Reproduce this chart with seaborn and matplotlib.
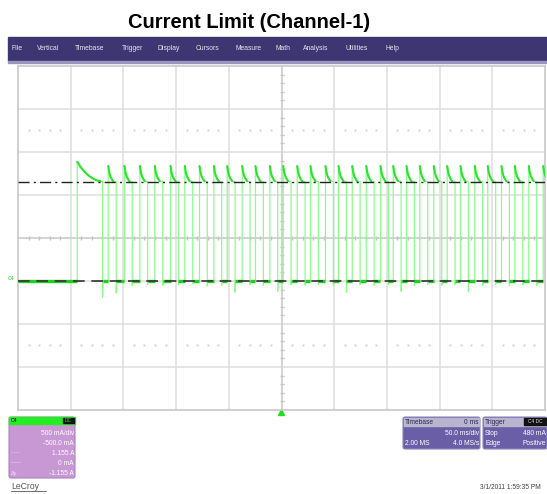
import numpy as np
import pandas as pd
import matplotlib
matplotlib.use('Agg')
import matplotlib.pyplot as plt
import seaborn as sns
from matplotlib.patches import Rectangle, FancyBboxPatch

# scope settings
time_div = 50.0          # ms/div
volt_div = 0.5           # A/div
offset = -0.5            # A
limit_level = 1.155      # A, dash-dot cursor

# pulse edges (ms) and peaks (A)
rise_ms = [-193.8, -164.4, -149.0, -134.4, -120.2, -105.3, -91.7, -77.8, -64.2, -51.5, -37.3,
           -24.7, -11.1, 1.6, 14.9, 27.5, 41.7, 54.1, 67.1, 80.4, 93.9, 106.0, 118.6, 131.2,
           144.5, 157.2, 169.8, 183.4, 195.7, 208.7, 221.4, 234.6, 248.3]
fall_ms = [-169.8, -156.8, -141.6, -127.0, -112.6, -97.8, -84.2, -70.4, -56.8, -44.0, -29.9,
           -17.2, -3.6, 9.1, 22.4, 35.0, 49.2, 61.6, 74.6, 87.9, 101.4, 113.5, 126.1, 138.7,
           152.0, 164.7, 177.3, 190.9, 203.2, 216.2, 228.9, 242.1, 255.8]
dip_A = [-0.19, -0.14, -0.05, -0.04, -0.05, -0.04, -0.03, -0.06, -0.05, -0.13, -0.04,
         -0.05, -0.12, -0.04, -0.05, -0.04, -0.05, -0.13, -0.04, -0.05, -0.04, -0.12, -0.05,
         -0.04, -0.05, -0.04, -0.12, -0.05, -0.04, -0.05, -0.04, -0.05, -0.04]
# decay of the overshoot after each rise: (ms after rise, A)
first_decay_ms = [0.0, 3.1, 7.9, 12.6, 17.4, 22.1]
first_decay_A = [1.387, 1.326, 1.256, 1.209, 1.174, 1.160]
decay_ms = [0.0, 0.9, 1.9, 3.3, 4.7]
decay_A = [1.337, 1.267, 1.221, 1.186, 1.160]

menu_items = ['File', 'Vertical', 'Timebase', 'Trigger', 'Display', 'Cursors', 'Measure',
              'Math', 'Analysis', 'Utilities', 'Help']
menu_x = [12, 37, 75, 122, 158, 196, 235, 275, 303, 346, 385]

# build the trace from the edges
t, a = [], []
t += [-250.0, rise_ms[0]]
a += [0.0, 0.0]
for i, (r, f) in enumerate(zip(rise_ms, fall_ms)):
    dm, dA = (first_decay_ms, first_decay_A) if i == 0 else (decay_ms, decay_A)
    t += [r] + [r + d for d in dm] + [f, f, f + 0.3]
    a += [0.0] + dA + [limit_level, dip_A[i], 0.0]
    if i + 1 < len(rise_ms):
        t += [rise_ms[i + 1]]
        a += [0.0]
trace = pd.DataFrame({'time': t, 'current': a})
trace = trace[trace['time'] <= 250.0]

sns.set_style('white')
plt.rcParams['font.family'] = ['Liberation Sans', 'DejaVu Sans']

fig = plt.figure(figsize=(5.47, 4.94), dpi=100)

# pixel overlay for the scope window chrome
bg = fig.add_axes([0, 0, 1, 1])
bg.set_xlim(0, 547)
bg.set_ylim(494, 0)
bg.axis('off')

bg.text(249, 22, 'Current Limit (Channel-1)', ha='center', va='center', fontsize=14.5,
        fontweight='bold', color='black')
bg.add_patch(Rectangle((8, 37), 539, 24, color='#3e3672'))
bg.add_patch(Rectangle((8, 61), 539, 2, color='#9a95bd'))
for name, x in zip(menu_items, menu_x):
    bg.text(x, 49, name, ha='left', va='center', fontsize=4.9, color='#e6e6f2')

# channel box
bg.add_patch(FancyBboxPatch((9, 417), 66, 61, boxstyle='round,pad=0,rounding_size=2',
                            fc='#c898d4', ec='#a985bb', lw=0.8))
bg.add_patch(Rectangle((9, 417), 66, 7, color='#22ee22'))
bg.add_patch(Rectangle((63, 418), 11, 5, color='#111111'))
bg.text(11, 420.5, 'C4', fontsize=3.8, va='center', color='black')
bg.text(68.5, 420.5, 'DC', fontsize=3.5, va='center', ha='center', color='#22ee22')
c4_rows = ['500 mA/div', '-500.0 mA', '1.155 A', '0 mA', '-1.155 A']
c4_left = ['', '', '-·-·-', '------', 'Δy']
for k, (txt, lab) in enumerate(zip(c4_rows, c4_left)):
    yy = 433 + k * 10
    bg.text(74, yy, txt, ha='right', va='center', fontsize=4.8, color='white')
    bg.text(11, yy, lab, ha='left', va='center', fontsize=4.0, color='#f4eaf7')
bg.text(11, 486, 'LeCroy', ha='left', va='center', fontsize=6.2, color='#555555')
bg.plot([11, 46], [490.5, 490.5], color='#555555', lw=0.6)

# timebase and trigger boxes
for x0, w in [(403, 77), (483, 64)]:
    bg.add_patch(FancyBboxPatch((x0, 417), w, 32, boxstyle='round,pad=0,rounding_size=2',
                                fc='#6a5fa6', ec='#8d86bf', lw=0.8))
    bg.add_patch(Rectangle((x0 + 1, 418), w - 2, 8, color='#b9b5cf'))
bg.text(405, 422, 'Timebase', fontsize=4.8, va='center', color='#2c2850')
bg.text(479, 422, '0 ms', fontsize=4.8, va='center', ha='right', color='#2c2850')
bg.text(479, 433, '50.0 ms/div', fontsize=4.8, va='center', ha='right', color='white')
bg.text(405, 443, '2.00 MS', fontsize=4.8, va='center', color='white')
bg.text(479, 443, '4.0 MS/s', fontsize=4.8, va='center', ha='right', color='white')
bg.text(485, 422, 'Trigger', fontsize=4.8, va='center', color='#2c2850')
bg.add_patch(Rectangle((524, 418), 23, 7, color='#111111'))
bg.text(535.5, 421.5, 'C4 DC', fontsize=3.5, va='center', ha='center', color='#dddddd')
bg.text(485, 433, 'Stop', fontsize=4.8, va='center', color='white')
bg.text(546, 433, '480 mA', fontsize=4.8, va='center', ha='right', color='white')
bg.text(485, 443, 'Edge', fontsize=4.8, va='center', color='white')
bg.text(546, 443, 'Positive', fontsize=4.8, va='center', ha='right', color='white')
bg.text(541, 487, '3/1/2011 1:59:35 PM', fontsize=4.8, va='center', ha='right', color='#444444')
bg.text(8, 278, 'C4', fontsize=3.8, va='center', color='#22cc22')
bg.plot([281], [411.5], marker='^', color='#22dd22', ms=4)

# graticule
ax = fig.add_axes([18 / 547, 84 / 494, 527 / 547, 344 / 494])
center_a = -offset
tmin, tmax = -5 * time_div, 5 * time_div
amin, amax = center_a - 4 * volt_div, center_a + 4 * volt_div
ax.set_xlim(tmin, tmax)
ax.set_ylim(amin, amax)
ax.set_xticks([])
ax.set_yticks([])
for s in ax.spines.values():
    s.set_color('#c8c8c8')
    s.set_linewidth(1.2)
grid_c = '#dedede'
for xv in np.arange(tmin + time_div, tmax, time_div):
    ax.axvline(xv, color=grid_c, lw=1.1, zorder=1)
for yv in np.arange(amin + volt_div, amax, volt_div):
    ax.axhline(yv, color=grid_c, lw=1.1, zorder=1)
ax.axvline(0, color='#cfcfcf', lw=1.1, zorder=1)
ax.axhline(center_a, color='#cfcfcf', lw=1.1, zorder=1)
minor_x = [v for v in np.arange(tmin, tmax + 1, time_div / 5) if v % time_div != 0]
minor_y = [v for v in np.arange(amin, amax + 0.01, volt_div / 5)
           if abs(v / volt_div - round(v / volt_div)) > 1e-6]
ax.plot(minor_x, [center_a] * len(minor_x), '|', color='#c4c4c4', ms=3, zorder=1)
ax.plot([0] * len(minor_y), minor_y, '_', color='#c4c4c4', ms=3, zorder=1)
for yv in [amax - 1.5 * volt_div, amin + 1.5 * volt_div]:
    ax.plot(minor_x, [yv] * len(minor_x), '.', color='#d6d6d6', ms=1.3, zorder=1)

# waveform
sns.lineplot(data=trace, x='time', y='current', sort=False, estimator=None, ax=ax,
             color='#8cfd8c', lw=0.9, zorder=3)
for i, r in enumerate(rise_ms):
    dm, dA = (first_decay_ms, first_decay_A) if i == 0 else (decay_ms, decay_A)
    seg = pd.DataFrame({'time': [r + d for d in dm], 'current': dA})
    sns.lineplot(data=seg, x='time', y='current', sort=False, estimator=None, ax=ax,
                 color='#2ae62a', lw=1.5, zorder=4)
low_t = [tmin, rise_ms[0]] + [v for pair in zip(fall_ms, rise_ms[1:]) for v in pair]
for k in range(0, len(low_t), 2):
    ax.plot(low_t[k:k + 2], [0, 0], color='#1fcf1f', lw=2.4, zorder=4, solid_capstyle='butt')

ax.axhline(limit_level, color='#222222', lw=1.0, ls=(0, (8, 3, 1.5, 3)), zorder=5)
ax.axhline(0, color='#333333', lw=1.2, ls=(0, (7, 4)), zorder=5)
ax.set_xlabel('')
ax.set_ylabel('')

fig.savefig('out.png', dpi=100)
